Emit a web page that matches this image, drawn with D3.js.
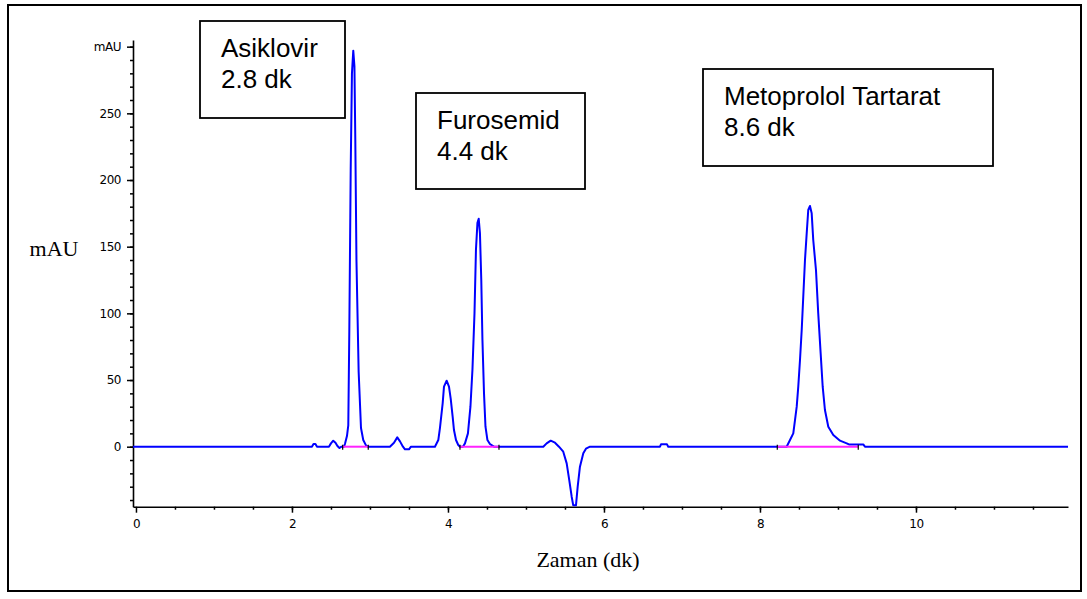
<!DOCTYPE html>
<html>
<head>
<meta charset="utf-8">
<script src="https://cdn.jsdelivr.net/npm/d3@7"></script>
<style>
body { margin: 0; background: #fff; }
</style>
</head>
<body>
<div id="chart"></div>
<script>
// retention time (dk) and detector signal (mAU)
var times = [-0.038, 2.256, 2.276, 2.301, 2.321, 2.474, 2.500, 2.529, 2.558, 2.583, 2.609, 2.635,
    2.667, 2.679, 2.705, 2.722, 2.735, 2.753, 2.769, 2.786, 2.801, 2.812, 2.827, 2.855, 2.885, 2.914, 2.949, 2.974,
    3.256, 3.308, 3.350, 3.385, 3.423, 3.449, 3.500, 3.526,
    3.833, 3.876, 3.897, 3.932, 3.949, 3.983, 4.013, 4.035, 4.060, 4.077, 4.103, 4.132, 4.154,
    4.192, 4.218, 4.256, 4.288, 4.314, 4.340, 4.359, 4.378, 4.394, 4.410, 4.427, 4.442, 4.462, 4.481, 4.506, 4.538, 4.590,
    5.222, 5.265, 5.317, 5.372, 5.423, 5.478, 5.522, 5.555, 5.586, 5.606, 5.641, 5.663, 5.692, 5.735, 5.769, 5.821,
    6.718, 6.731, 6.808, 6.824,
    8.342, 8.385, 8.427, 8.449, 8.471, 8.491, 8.513, 8.535, 8.555, 8.577, 8.599, 8.619, 8.641, 8.663, 8.683,
    8.718, 8.747, 8.778, 8.804, 8.833, 8.876, 8.940, 9.026, 9.112, 9.141, 9.324, 9.346, 11.949];
var signal = [0, 0, 2, 2, 0, 0, 2.5, 4.5, 3, 0.5, -1, 0,
    0, 2, 8, 16, 86, 208, 280, 297, 285, 230, 139, 56, 14, 5, 1, 0,
    0, 3, 7, 4, 0, -2, -2, 0,
    0, 5, 14, 32.5, 45, 49.5, 45, 36, 22.5, 12.5, 5, 1.3, 0,
    0, 2.5, 10, 30, 58, 100, 148, 168, 171, 160, 125, 80, 40, 15, 5, 2, 0,
    0, 2.5, 4.5, 3, 0, -3.75, -12.5, -25, -37.5, -44, -44, -30, -15, -5, -1.5, 0,
    0, 1.75, 1.75, 0,
    0, 5, 10, 20, 30, 45, 65, 87.5, 112.5, 140, 160, 177.5, 180.5, 175, 155,
    132.5, 100, 70, 45, 27.5, 15, 8.75, 4.5, 2.5, 1.7, 1.7, 0, 0];

// integration baselines under the three named peaks (dk)
var baseStart = [2.650, 4.154, 8.222];
var baseEnd = [2.978, 4.654, 9.260];

var peakNames = ["Asiklovir", "Furosemid", "Metoprolol Tartarat"];
var peakLabels = ["2.8 dk", "4.4 dk", "8.6 dk"];

var yTicks = [0, 50, 100, 150, 200, 250, 300];
var xTicks = [0, 2, 4, 6, 8, 10];
var yTitle = "mAU";
var xTitle = "Zaman (dk)";

function createChart() {
    var width = 1087,
        height = 599;

    var x = d3.scaleLinear()
        .domain([-0.038, 11.949])
        .range([133, 1068]);

    var y = d3.scaleLinear()
        .domain([-45, 305])
        .range([506.7, 40]);

    var svg = d3.select("#chart").append("svg")
        .attr("width", width)
        .attr("height", height);

    // outer frame
    svg.append("rect")
        .attr("x", 8)
        .attr("y", 5)
        .attr("width", 1073)
        .attr("height", 586)
        .attr("fill", "none")
        .attr("stroke", "#000")
        .attr("stroke-width", 2);

    // minor ticks first, then the labelled axes on top
    svg.append("g")
        .attr("transform", "translate(133,0)")
        .call(d3.axisLeft(y).tickValues(d3.range(-40, 301, 10)).tickSize(3).tickSizeOuter(0).tickFormat(""))
        .call(g => g.select(".domain").remove());

    svg.append("g")
        .attr("transform", "translate(0,506.7)")
        .call(d3.axisBottom(x).tickValues(d3.range(0.5, 11.95, 0.5)).tickSize(3).tickSizeOuter(0).tickFormat(""))
        .call(g => g.select(".domain").remove());

    var yAxis = svg.append("g")
        .attr("transform", "translate(133,0)")
        .call(d3.axisLeft(y).tickValues(yTicks).tickSize(6).tickPadding(6).tickSizeOuter(0)
            .tickFormat(d => d == 300 ? "mAU" : d));

    var xAxis = svg.append("g")
        .attr("transform", "translate(0,506.7)")
        .call(d3.axisBottom(x).tickValues(xTicks).tickSize(6).tickPadding(7).tickSizeOuter(0));

    svg.selectAll(".tick line").attr("stroke", "#000").attr("stroke-width", 1.5);
    svg.selectAll(".domain").attr("stroke", "#000").attr("stroke-width", 1.6);
    svg.selectAll(".tick text")
        .attr("font-family", "DejaVu Sans")
        .attr("font-size", 12)
        .attr("letter-spacing", -0.5)
        .attr("fill", "#000");

    // axis titles
    svg.append("text")
        .attr("x", 54)
        .attr("y", 256)
        .attr("text-anchor", "middle")
        .attr("font-family", "Liberation Serif")
        .attr("font-size", 22)
        .text(yTitle);

    svg.append("text")
        .attr("x", 588)
        .attr("y", 567)
        .attr("text-anchor", "middle")
        .attr("font-family", "Liberation Serif")
        .attr("font-size", 22)
        .text(xTitle);

    var line = d3.line()
        .x((d, i) => x(times[i]))
        .y(d => y(d));

    svg.append("path")
        .datum(signal)
        .attr("fill", "none")
        .attr("stroke", "#0000ff")
        .attr("stroke-width", 2)
        .attr("stroke-linejoin", "round")
        .attr("d", line);

    // integration baselines, drawn over the trace
    svg.append("g")
        .selectAll("line")
        .data(baseStart)
        .enter()
        .append("line")
        .attr("x1", d => x(d))
        .attr("x2", (d, i) => x(baseEnd[i]))
        .attr("y1", y(0))
        .attr("y2", y(0))
        .attr("stroke", "#ff22ff")
        .attr("stroke-width", 2);

    // small black marks at integration start/end
    var marks = baseStart.concat(baseEnd);
    svg.append("g")
        .selectAll("line")
        .data(marks)
        .enter()
        .append("line")
        .attr("x1", d => x(d))
        .attr("x2", d => x(d))
        .attr("y1", y(0) - 2)
        .attr("y2", y(0) + 3)
        .attr("stroke", "#000")
        .attr("stroke-width", 1.2);

    // peak name boxes
    var boxes = [
        {left: 200, top: 21, w: 145, h: 97},
        {left: 416, top: 93, w: 169, h: 96},
        {left: 703, top: 69, w: 290, h: 97}
    ];

    var box = svg.append("g")
        .selectAll("g")
        .data(boxes)
        .enter()
        .append("g")
        .attr("transform", d => `translate(${d.left},${d.top})`);

    box.append("rect")
        .attr("width", d => d.w)
        .attr("height", d => d.h)
        .attr("fill", "#fff")
        .attr("stroke", "#000")
        .attr("stroke-width", 1.8);

    box.append("text")
        .attr("x", 21)
        .attr("y", 36)
        .attr("font-family", "Liberation Sans")
        .attr("font-size", 26)
        .text((d, i) => peakNames[i]);

    box.append("text")
        .attr("x", 21)
        .attr("y", 66.5)
        .attr("font-family", "Liberation Sans")
        .attr("font-size", 26)
        .text((d, i) => peakLabels[i]);
}

function init() {
    createChart();
}

window.onload = init;
</script>
</body>
</html>
